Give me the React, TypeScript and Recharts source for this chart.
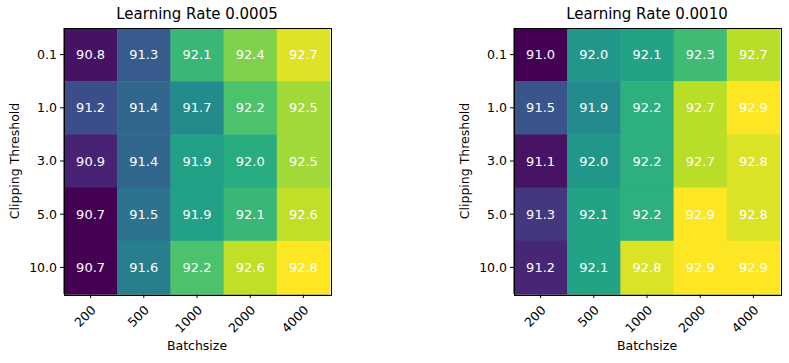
import React from 'react';
import { ScatterChart, Scatter, XAxis, YAxis } from 'recharts';

const batchSizes = ['200', '500', '1000', '2000', '4000'];
const clipThresholds = ['0.1', '1.0', '3.0', '5.0', '10.0'];

// rows = clipping threshold, columns = batch size
const accLr0005 = [
  [90.8, 91.3, 92.1, 92.4, 92.7],
  [91.2, 91.4, 91.7, 92.2, 92.5],
  [90.9, 91.4, 91.9, 92.0, 92.5],
  [90.7, 91.5, 91.9, 92.1, 92.6],
  [90.7, 91.6, 92.2, 92.6, 92.8],
];
const accLr0010 = [
  [91.0, 92.0, 92.1, 92.3, 92.7],
  [91.5, 91.9, 92.2, 92.7, 92.9],
  [91.1, 92.0, 92.2, 92.7, 92.8],
  [91.3, 92.1, 92.2, 92.9, 92.8],
  [91.2, 92.1, 92.8, 92.9, 92.9],
];

const FONT = '"DejaVu Sans", sans-serif';
const PLOT = 266;
const CELL = PLOT / 5;

// matplotlib viridis, sampled every 0.1
const VIRIDIS = [
  '#440154', '#482475', '#414487', '#355f8d', '#2a788e', '#21918c',
  '#22a884', '#44bf70', '#7ad151', '#bddf26', '#fde725',
];

const hexRgb = (h: string) => [1, 3, 5].map((i) => parseInt(h.slice(i, i + 2), 16));

const viridis = (t: number) => {
  const v = Math.max(0, Math.min(1, t)) * (VIRIDIS.length - 1);
  const i = Math.min(Math.floor(v), VIRIDIS.length - 2);
  const f = v - i;
  const a = hexRgb(VIRIDIS[i]);
  const b = hexRgb(VIRIDIS[i + 1]);
  const c = a.map((x, k) => Math.round(x + (b[k] - x) * f));
  return `rgb(${c[0]},${c[1]},${c[2]})`;
};

const RotTick = (props: any) => {
  const { x, y, payload } = props;
  return (
    <g transform={`translate(${x + 6},${y + 11})`}>
      <text transform="rotate(-45)" textAnchor="end" fontSize={12.5} fontFamily={FONT} fill="#000">
        {batchSizes[payload.value]}
      </text>
    </g>
  );
};

const Heatmap = ({ values, title, left, width }: { values: number[][]; title: string; left: number; width: number }) => {
  const flat = values.flat();
  const vmin = Math.min(...flat);
  const vmax = Math.max(...flat);
  const data = values.flatMap((row, r) => row.map((v, c) => ({ col: c, row: r, value: v })));

  const shape = (p: any) => {
    const { cx, cy, payload } = p;
    return (
      <g>
        <rect x={cx - CELL / 2} y={cy - CELL / 2} width={CELL + 0.5} height={CELL + 0.5}
          fill={viridis((payload.value - vmin) / (vmax - vmin))} />
        <text x={cx} y={cy} dy={4.6} textAnchor="middle" fontSize={13} fontFamily={FONT} fill="#fff">
          {payload.value.toFixed(1)}
        </text>
      </g>
    );
  };

  return (
    <div style={{ position: 'absolute', left, top: 0, width, height: 363 }}>
      <div style={{
        position: 'absolute', left: 64, top: 5, width: PLOT, textAlign: 'center',
        fontFamily: FONT, fontSize: 15, color: '#000', lineHeight: '18px',
      }}>
        {title}
      </div>
      <ScatterChart width={width} height={363} margin={{ top: 28, right: width - 64 - PLOT, bottom: 19, left: 0 }}>
        <XAxis type="number" dataKey="col" domain={[-0.5, 4.5]} ticks={[0, 1, 2, 3, 4]}
          height={50} tickSize={4} stroke="#000" tick={<RotTick />} interval={0}
          label={{ value: 'Batchsize', position: 'insideBottom', offset: -6, fontSize: 12.5, fontFamily: FONT, fill: '#000' }} />
        <YAxis type="number" dataKey="row" domain={[-0.5, 4.5]} ticks={[0, 1, 2, 3, 4]} reversed
          width={64} tickSize={4} tickMargin={3} stroke="#000" interval={0}
          tickFormatter={(v: number) => clipThresholds[v]}
          tick={{ fontSize: 12.5, fontFamily: FONT, fill: '#000' }}
          label={{ value: 'Clipping Threshold', angle: -90, position: 'insideLeft', offset: 15,
            style: { textAnchor: 'middle' }, fontSize: 12.5, fontFamily: FONT, fill: '#000' }} />
        <Scatter data={data} shape={shape} isAnimationActive={false} />
      </ScatterChart>
      {/* frame around the image, like matplotlib's four spines */}
      <div style={{
        position: 'absolute', left: 63.5, top: 27.5, width: PLOT, height: PLOT,
        border: '1px solid #000', pointerEvents: 'none',
      }} />
    </div>
  );
}

export default function App() {
  return (
    <div style={{ position: 'absolute', left: 0, top: 0, width: 789, height: 363, background: '#fff' }}>
      <Heatmap values={accLr0005} title="Learning Rate 0.0005" left={0} width={394} />
      <Heatmap values={accLr0010} title="Learning Rate 0.0010" left={450} width={339} />
    </div>
  );
}
